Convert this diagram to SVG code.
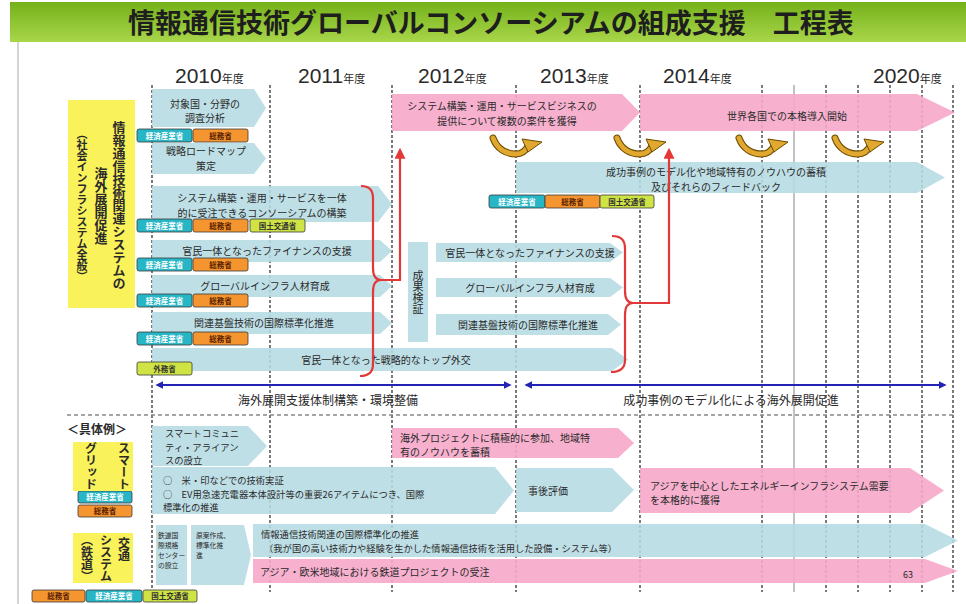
<svg xmlns="http://www.w3.org/2000/svg" width="966" height="604" viewBox="0 0 966 604">
<defs>
<linearGradient id="tg" x1="0" y1="0" x2="0" y2="1"><stop offset="0" stop-color="#74b11a"/><stop offset="1" stop-color="#a9d64a"/></linearGradient>
<marker id="ra" viewBox="0 0 10 10" refX="8" refY="5" markerWidth="5" markerHeight="5" orient="auto"><path d="M0,0 L10,5 L0,10 z" fill="#e23838"/></marker>
<marker id="ba" viewBox="0 0 10 10" refX="8" refY="5" markerWidth="4" markerHeight="4" orient="auto-start-reverse"><path d="M0,0 L10,5 L0,10 z" fill="#2323b5"/></marker>
<g id="sw">
<path d="M-23,-8 C-19,3 -10,8 0,8 C6,8 10,4 12,0" stroke="#6b4a00" stroke-width="7" fill="none" stroke-linecap="round"/>
<path d="M-23,-8 C-19,3 -10,8 0,8 C6,8 10,4 12,0" stroke="#e0a82e" stroke-width="5" fill="none" stroke-linecap="round"/>
<polygon points="6,-7 26,-4 12,6" fill="#e0a82e" stroke="#6b4a00" stroke-width="1"/>
</g>
</defs>
<style>
.ja{font-family:"Noto Sans CJK JP","Noto Sans CJK SC",sans-serif;fill:#2a2a2a;font-size:10px}
.c{text-anchor:middle}
.bl{fill:#b6dbe4;fill-opacity:.88}
.pk{fill:#f6a8ca;fill-opacity:.9}
.yb{fill:#f9f25b}
.grid{stroke:#333;stroke-width:1.3;stroke-dasharray:3 2;fill:none}
.tag rect{stroke:#3a3a3a;stroke-width:.8}
.tag text{font-family:"Noto Sans CJK JP",sans-serif;font-size:7.5px;font-weight:bold;text-anchor:middle}
.teal rect{fill:#27b6c6}.teal text{fill:#fff}
.org rect{fill:#f4952f}.org text{fill:#5b1d00}
.lime rect{fill:#cfe444}.lime text{fill:#333}
.vt{writing-mode:vertical-rl;font-weight:bold;text-anchor:middle;font-family:"Noto Sans CJK JP",sans-serif;fill:#2a2a2a}
.yr{font-family:"Liberation Sans",Arial,sans-serif;font-size:21px;fill:#2a2a2a}
.nen{font-family:"Noto Sans CJK JP",sans-serif;font-size:11px}
.red{stroke:#e23838;stroke-width:2.2;fill:none}
.blu{stroke:#2323b5;stroke-width:2;fill:none}
.s7{font-size:6.8px}
</style>
<rect width="966" height="604" fill="#fff"/>
<g id="title">
<rect x="10" y="2" width="956" height="40" fill="url(#tg)"/>
<text x="491" y="33" class="c" style="font-family:'Noto Sans CJK JP',sans-serif;font-size:27px;font-weight:bold;fill:#1e1e1e">情報通信技術グローバルコンソーシアムの組成支援　工程表</text>
</g>
<line x1="18" y1="42" x2="18" y2="604" stroke="#aaa" stroke-width="1"/>
<g id="years">
<text x="175" y="83" class="yr">2010<tspan class="nen">年度</tspan></text>
<text x="298" y="83" class="yr">2011<tspan class="nen">年度</tspan></text>
<text x="418" y="83" class="yr">2012<tspan class="nen">年度</tspan></text>
<text x="540" y="83" class="yr">2013<tspan class="nen">年度</tspan></text>
<text x="663" y="83" class="yr">2014<tspan class="nen">年度</tspan></text>
<text x="873" y="83" class="yr">2020<tspan class="nen">年度</tspan></text>
</g>
<g id="grid">
<path class="grid" d="M152,85V592M270,85V592M392,85V592M516,85V592M640,85V592M762,85V592M826,85V592M858,85V592M890,85V592M922,85V592M953,85V592"/>
<line x1="794" y1="85" x2="794" y2="592" stroke="#999" stroke-width="1.2"/>
<line x1="67" y1="415" x2="955" y2="415" stroke="#888" stroke-width="1.3" stroke-dasharray="4 3"/>
</g>
<g id="label-main">
<rect x="68" y="100" width="67" height="208" class="yb"/>
<text x="119" y="205" class="vt" style="font-size:13px">情報通信技術関連システムの</text>
<text x="101" y="206" class="vt" style="font-size:13px">海外展開促進</text>
<text x="82" y="205" class="vt" style="font-size:11px">（社会インフラシステム全般）</text>
</g>
<g id="r1"><polygon class="bl" points="152,89 254,89 266,108 254,127 152,127"/><text class="ja c" x="205" y="107.5">対象国・分野の</text><text class="ja c" x="205" y="122">調査分析</text></g>
<g id="r2"><polygon class="bl" points="152,143 254,143 266,158.5 254,174 152,174"/><text class="ja c" x="206" y="155">戦略ロードマップ</text><text class="ja c" x="206" y="169.5">策定</text></g>
<g id="r3"><polygon class="bl" points="152,186 378,186 392,204 378,222 152,222"/><text class="ja c" x="262" y="202">システム構築・運用・サービスを一体</text><text class="ja c" x="262" y="216.5">的に受注できるコンソーシアムの構築</text></g>
<g id="r4"><polygon class="bl" points="152,240 380,240 392,251 380,262 152,262"/><text class="ja c" x="267" y="255">官民一体となったファイナンスの支援</text></g>
<g id="r5"><polygon class="bl" points="152,275 380,275 392,286 380,297 152,297"/><text class="ja c" x="265" y="290">グローバルインフラ人材育成</text></g>
<g id="r6"><polygon class="bl" points="152,312 380,312 392,323 380,334 152,334"/><text class="ja c" x="264" y="327">関連基盤技術の国際標準化推進</text></g>
<g id="r7"><polygon class="bl" points="152,348 612,348 628,359.5 612,371 152,371"/><text class="ja c" x="386" y="364">官民一体となった戦略的なトップ外交</text></g>
<g id="verify"><rect class="bl" x="408" y="242" width="20" height="100"/><text x="418" y="292" class="vt" style="font-size:11px;font-weight:normal">成果検証</text></g>
<g id="m1"><polygon class="bl" points="436,243 610,243 623,252.5 610,262 436,262"/><text class="ja c" x="530" y="257">官民一体となったファイナンスの支援</text></g>
<g id="m2"><polygon class="bl" points="436,278 610,278 623,287.5 610,297 436,297"/><text class="ja c" x="530" y="292">グローバルインフラ人材育成</text></g>
<g id="m3"><polygon class="bl" points="436,314 608,314 621,324.5 608,335 436,335"/><text class="ja c" x="528" y="329">関連基盤技術の国際標準化推進</text></g>
<g id="p1"><polygon class="pk" points="392,94 622,94 640,112.5 622,131 392,131"/><text class="ja c" x="502" y="110">システム構築・運用・サービスビジネスの</text><text class="ja c" x="507" y="124.5">提供について複数の案件を獲得</text></g>
<g id="p2"><polygon class="pk" points="640,94 917,94 955,112.5 917,131 640,131"/><text class="ja c" x="787" y="120">世界各国での本格導入開始</text></g>
<g id="s1"><polygon class="bl" points="516,162 917,162 945,177.5 917,193 516,193"/><text class="ja c" x="716" y="176">成功事例のモデル化や地域特有のノウハウの蓄積</text><text class="ja c" x="716" y="190.5">及びそれらのフィードバック</text></g>
<g id="swirls">
<use href="#sw" x="516" y="146"/><use href="#sw" x="640" y="146"/><use href="#sw" x="762" y="146"/><use href="#sw" x="858" y="146"/>
</g>
<g id="tags">
<g class="tag teal" transform="translate(137,129)"><rect width="55" height="13" rx="2"/><text x="27.5" y="9.5">経済産業省</text></g>
<g class="tag org" transform="translate(193,129)"><rect width="55" height="13" rx="2"/><text x="27.5" y="9.5">総務省</text></g>
<g class="tag teal" transform="translate(137,219)"><rect width="55" height="13" rx="2"/><text x="27.5" y="9.5">経済産業省</text></g>
<g class="tag org" transform="translate(193,219)"><rect width="55" height="13" rx="2"/><text x="27.5" y="9.5">総務省</text></g>
<g class="tag lime" transform="translate(250,219)"><rect width="55" height="13" rx="2"/><text x="27.5" y="9.5">国土交通省</text></g>
<g class="tag teal" transform="translate(137,258)"><rect width="55" height="13" rx="2"/><text x="27.5" y="9.5">経済産業省</text></g>
<g class="tag org" transform="translate(193,258)"><rect width="55" height="13" rx="2"/><text x="27.5" y="9.5">総務省</text></g>
<g class="tag teal" transform="translate(137,294)"><rect width="55" height="13" rx="2"/><text x="27.5" y="9.5">経済産業省</text></g>
<g class="tag org" transform="translate(193,294)"><rect width="55" height="13" rx="2"/><text x="27.5" y="9.5">総務省</text></g>
<g class="tag teal" transform="translate(137,332)"><rect width="55" height="13" rx="2"/><text x="27.5" y="9.5">経済産業省</text></g>
<g class="tag org" transform="translate(193,332)"><rect width="55" height="13" rx="2"/><text x="27.5" y="9.5">総務省</text></g>
<g class="tag lime" transform="translate(137,362)"><rect width="55" height="13" rx="2"/><text x="27.5" y="9.5">外務省</text></g>
<g class="tag teal" transform="translate(489,195)"><rect width="56" height="13" rx="2"/><text x="28" y="9.5">経済産業省</text></g>
<g class="tag org" transform="translate(545,195)"><rect width="55" height="13" rx="2"/><text x="27.5" y="9.5">総務省</text></g>
<g class="tag lime" transform="translate(600,195)"><rect width="54" height="13" rx="2"/><text x="27" y="9.5">国土交通省</text></g>
<g class="tag teal" transform="translate(78,491)"><rect width="54" height="12" rx="2"/><text x="27" y="9">経済産業省</text></g>
<g class="tag org" transform="translate(78,505)"><rect width="54" height="12" rx="2"/><text x="27" y="9">総務省</text></g>
<g class="tag org" transform="translate(32,590)"><rect width="53" height="12" rx="2"/><text x="26.5" y="9">総務省</text></g>
<g class="tag teal" transform="translate(86,590)"><rect width="56" height="12" rx="2"/><text x="28" y="9">経済産業省</text></g>
<g class="tag lime" transform="translate(143,590)"><rect width="54" height="12" rx="2"/><text x="27" y="9">国土交通省</text></g>
</g>
<g id="phase-labels">
<text class="ja c" x="328" y="405" style="font-size:12px">海外展開支援体制構築・環境整備</text>
<text class="ja c" x="731" y="405" style="font-size:12px">成功事例のモデル化による海外展開促進</text>
<text class="ja c" x="97" y="434" style="font-size:12px;font-weight:bold">＜具体例＞</text>
</g>
<g id="label-sg">
<rect x="73" y="442" width="60" height="49" class="yb"/>
<text x="124" y="466" class="vt" style="font-size:12px">スマート</text>
<text x="91" y="466" class="vt" style="font-size:12px">グリッド</text>
</g>
<g id="label-rail">
<rect x="73" y="533" width="60" height="50" class="yb"/>
<text x="124" y="549" class="vt" style="font-size:12px">交通</text>
<text x="106" y="558" class="vt" style="font-size:12px">システム</text>
<text x="87" y="558" class="vt" style="font-size:12px">（鉄道）</text>
</g>
<g id="sg1"><polygon class="bl" points="152,426 248,426 267,446 248,466 152,466"/><text class="ja" x="165" y="437" style="font-size:9.3px">スマートコミュニ</text><text class="ja" x="165" y="450.5" style="font-size:9.3px">ティ・アライアン</text><text class="ja" x="165" y="464" style="font-size:9.3px">スの設立</text></g>
<g id="sg2"><polygon class="pk" points="392,428 618,428 634,443 618,458 392,458"/><text class="ja" x="400" y="441.5">海外プロジェクトに積極的に参加、地域特</text><text class="ja" x="400" y="456">有のノウハウを蓄積</text></g>
<g id="sg3"><polygon class="bl" points="152,467 495,467 514,490.5 495,514 152,514"/><text class="ja" x="163" y="484" style="font-size:9.3px">○　米・印などでの技術実証</text><text class="ja" x="163" y="497.5" style="font-size:9.3px">○　EV用急速充電器本体設計等の重要26アイテムにつき、国際</text><text class="ja" x="163" y="511" style="font-size:9.3px">標準化の推進</text></g>
<g id="sg4"><polygon class="bl" points="516,468 612,468 634,490 612,512 516,512"/><text class="ja" x="528" y="495">事後評価</text></g>
<g id="sg5"><polygon class="pk" points="640,468 910,468 944,490.5 910,513 640,513"/><text class="ja" x="650" y="489.5">アジアを中心としたエネルギーインフラシステム需要</text><text class="ja" x="650" y="504">を本格的に獲得</text></g>
<g id="rl1"><rect class="bl" x="156" y="525" width="31" height="60"/><text class="ja s7" x="158" y="538">鉄道国</text><text class="ja s7" x="158" y="548">際規格</text><text class="ja s7" x="158" y="558">センター</text><text class="ja s7" x="158" y="568">の設立</text></g>
<g id="rl2"><polygon class="bl" points="191,525 244,525 251,555 244,585 191,585"/><text class="ja s7" x="196" y="538">原案作成、</text><text class="ja s7" x="196" y="548">標準化推</text><text class="ja s7" x="196" y="558">進</text></g>
<g id="rl3"><polygon class="bl" points="253,524 925,524 958,540.5 925,557 253,557"/><text class="ja" x="261" y="538" style="font-size:9.3px">情報通信技術関連の国際標準化の推進</text><text class="ja" x="264" y="551.5" style="font-size:9.3px">（我が国の高い技術力や経験を生かした情報通信技術を活用した設備・システム等）</text></g>
<g id="rl4"><polygon class="pk" points="253,559 925,559 958,571 925,583 253,583"/><text class="ja" x="260" y="575.5">アジア・欧米地域における鉄道プロジェクトの受注</text></g>
<text class="ja" x="903" y="578" style="font-size:9px">63</text>
<g id="connectors">
<path class="red" d="M361,186 Q373,186 373,198 L373,268 Q373,280 381,280 Q373,280 373,292 L373,364 Q373,376 360,376"/>
<path class="red" d="M381,280 H400 V150" marker-end="url(#ra)"/>
<path class="red" d="M612,236 Q625,236 625,248 L625,291 Q625,303 633,303 Q625,303 625,315 L625,360 Q625,372 611,372"/>
<path class="red" d="M633,303 H669 V150" marker-end="url(#ra)"/>
<path class="blu" d="M157,385 H510" marker-start="url(#ba)" marker-end="url(#ba)"/>
<path class="blu" d="M526,385 H945" marker-start="url(#ba)" marker-end="url(#ba)"/>
</g>
</svg>
